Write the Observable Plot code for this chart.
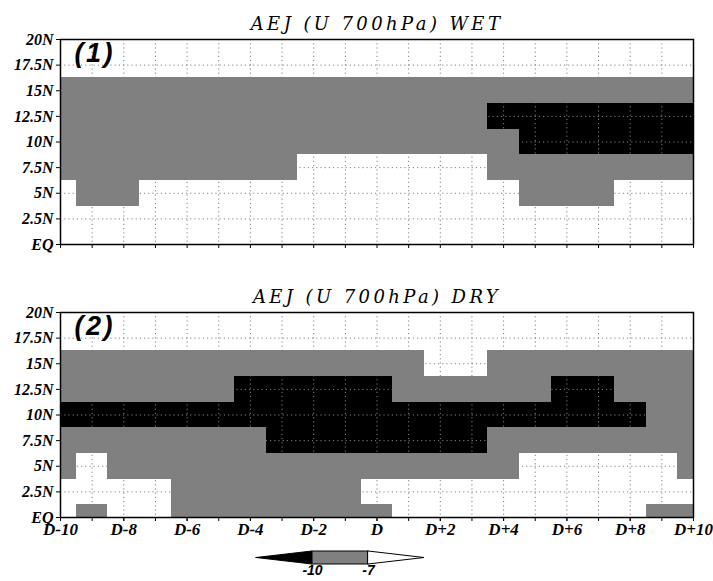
<!DOCTYPE html>
<html><head><meta charset="utf-8">
<script src="https://cdn.jsdelivr.net/npm/d3@7"></script>
<script src="https://cdn.jsdelivr.net/npm/@observablehq/plot@0.6"></script>
<style>
body{margin:0;background:#fff;}
#chart{position:relative;width:713px;height:581px;overflow:hidden;background:#fff;}
#chart svg{position:absolute;left:0;overflow:visible;}
</style></head><body><div id="chart"></div>
<script>
// Days relative to onset (D-10 .. D+10)
const days = [-10,-9,-8,-7,-6,-5,-4,-3,-2,-1,0,1,2,3,4,5,6,7,8,9,10];
const dayTicks = [-10,-8,-6,-4,-2,0,2,4,6,8,10];
const dayTickLabels = ["D-10","D-8","D-6","D-4","D-2","D","D+2","D+4","D+6","D+8","D+10"];
// Latitude rows, top to bottom
const lats = [20,17.5,15,12.5,10,7.5,5,2.5,0];
const latTicks = [0,2.5,5,7.5,10,12.5,15,17.5,20];
const latTickLabels = ["EQ","2.5N","5N","7.5N","10N","12.5N","15N","17.5N","20N"];
// Shading class of U700: 0 = above -7, 1 = -10..-7, 2 = below -10 (m/s)
const shadeClasses = [0, 1, 2];
const shadeColors = ["#ffffff", "#808080", "#000000"];
const legendBreaks = [-10, -7];
const legendLabels = ["-10", "-7"];

const wetTitle = "AEJ (U 700hPa) WET";
const dryTitle = "AEJ (U 700hPa) DRY";

const wetRows = [
  [0,0,0,0,0,0,0,0,0,0,0,0,0,0,0,0,0,0,0,0,0], // 20N
  [0,0,0,0,0,0,0,0,0,0,0,0,0,0,0,0,0,0,0,0,0], // 17.5N
  [1,1,1,1,1,1,1,1,1,1,1,1,1,1,1,1,1,1,1,1,1], // 15N
  [1,1,1,1,1,1,1,1,1,1,1,1,1,1,2,2,2,2,2,2,2], // 12.5N
  [1,1,1,1,1,1,1,1,1,1,1,1,1,1,1,2,2,2,2,2,2], // 10N
  [1,1,1,1,1,1,1,1,0,0,0,0,0,0,1,1,1,1,1,1,1], // 7.5N
  [0,1,1,0,0,0,0,0,0,0,0,0,0,0,0,1,1,1,0,0,0], // 5N
  [0,0,0,0,0,0,0,0,0,0,0,0,0,0,0,0,0,0,0,0,0], // 2.5N
  [0,0,0,0,0,0,0,0,0,0,0,0,0,0,0,0,0,0,0,0,0]  // EQ
];
const dryRows = [
  [0,0,0,0,0,0,0,0,0,0,0,0,0,0,0,0,0,0,0,0,0], // 20N
  [0,0,0,0,0,0,0,0,0,0,0,0,0,0,0,0,0,0,0,0,0], // 17.5N
  [1,1,1,1,1,1,1,1,1,1,1,1,0,0,1,1,1,1,1,1,1], // 15N
  [1,1,1,1,1,1,2,2,2,2,2,1,1,1,1,1,2,2,1,1,1], // 12.5N
  [2,2,2,2,2,2,2,2,2,2,2,2,2,2,2,2,2,2,2,1,1], // 10N
  [1,1,1,1,1,1,1,2,2,2,2,2,2,2,1,1,1,1,1,1,1], // 7.5N
  [1,0,1,1,1,1,1,1,1,1,1,1,1,1,1,0,0,0,0,0,1], // 5N
  [0,0,0,0,1,1,1,1,1,1,0,0,0,0,0,0,0,0,0,0,0], // 2.5N
  [0,1,0,0,1,1,1,1,1,1,1,0,0,0,0,0,0,0,0,1,1]  // EQ
];

const tickFont = {fontFamily: "Liberation Serif", fontWeight: "bold", fontStyle: "italic"};

function panel(rows, title, tag, showX, marginTop, height) {
  const cells = [];
  lats.forEach((lat, i) => days.forEach((day, j) => cells.push({day, lat, cls: rows[i][j]})));
  const dLat = 1.25, dDay = 0.5;
  const svg = Plot.plot({
    width: 713, height,
    marginLeft: 60, marginRight: 20, marginTop, marginBottom: height - marginTop - 205,
    x: {domain: [-10, 10]},
    y: {domain: [0, 20]},
    color: {type: "ordinal", domain: shadeClasses, range: shadeColors},
    style: {background: "transparent", color: "black"},
    marks: [
      Plot.rect(cells, {
        x1: d => d.day - dDay, x2: d => d.day + dDay,
        y1: d => d.lat - dLat, y2: d => d.lat + dLat,
        fill: "cls", clip: true, shapeRendering: "crispEdges"
      }),
      Plot.gridX({ticks: days.slice(1, -1), stroke: "#808080", strokeOpacity: 1, strokeWidth: 1, strokeDasharray: "1.2,3"}),
      Plot.gridY({ticks: latTicks.slice(1, -1), stroke: "#808080", strokeOpacity: 1, strokeWidth: 1, strokeDasharray: "1.2,3"}),
      Plot.axisY({ticks: latTicks, tickFormat: d => latTickLabels[latTicks.indexOf(d)], tickSize: 4, tickPadding: 3, label: null, fontSize: 16, ...tickFont}),
      Plot.axisX({ticks: days, tickFormat: () => "", tickSize: 4, label: null}),
      ...(showX ? [Plot.axisX({ticks: dayTicks, tickFormat: d => dayTickLabels[dayTicks.indexOf(d)], tickSize: 4, tickPadding: 1, label: null, fontSize: 17, ...tickFont})] : []),
      Plot.frame({stroke: "black", strokeWidth: 1.5}),
      Plot.text([title], {frameAnchor: "top", lineAnchor: "bottom", dy: -10, fontSize: 18, fontFamily: "DejaVu Serif", fontStyle: "italic", fill: "black"}),
      Plot.text([tag], {frameAnchor: "top-left", textAnchor: "start", lineAnchor: "top", dx: 14, dy: 3, fontSize: 27, fontFamily: "Liberation Sans", fontWeight: "bold", fontStyle: "italic", fill: "black"})
    ]
  });
  const texts = d3.select(svg).selectAll("text");
  texts.filter(function() { return this.textContent === title; }).style("letter-spacing", "3.4px");
  texts.filter(function() { return this.textContent === tag; }).style("letter-spacing", "2.5px");
  return svg;
}

const chart = document.getElementById("chart");
const p1 = panel(wetRows, wetTitle, "(1)", false, 39, 270);
p1.style.top = "0px";
chart.appendChild(p1);
const p2 = panel(dryRows, dryTitle, "(2)", true, 40, 268);
p2.style.top = "272px";
chart.appendChild(p2);

// Colour bar
const lo = legendBreaks[0], hi = legendBreaks[1];
const span = hi - lo;
const leg = Plot.plot({
  width: 713, height: 41,
  marginLeft: 256, marginRight: 289, marginTop: 11, marginBottom: 17,
  x: {domain: [lo - span, hi + span], axis: null},
  y: {domain: [0, 1], axis: null},
  style: {background: "transparent"},
  marks: [
    Plot.area([{x: lo - span, a: 0.5, b: 0.5}, {x: lo, a: 0, b: 1}], {x1: "x", y1: "a", y2: "b", fill: shadeColors[2], stroke: "black", strokeWidth: 1}),
    Plot.rect([{a: lo, b: hi}], {x1: "a", x2: "b", y1: 0, y2: 1, fill: shadeColors[1], stroke: "black", strokeWidth: 1}),
    Plot.area([{x: hi, a: 0, b: 1}, {x: hi + span, a: 0.5, b: 0.5}], {x1: "x", y1: "a", y2: "b", fill: shadeColors[0], stroke: "black", strokeWidth: 1}),
    Plot.text(legendBreaks, {x: d => d, frameAnchor: "bottom", lineAnchor: "top", dy: 1, text: (d, i) => legendLabels[i], fontSize: 14, fontFamily: "Liberation Sans", fontWeight: "bold", fontStyle: "italic", fill: "black"})
  ]
});
leg.style.top = "540px";
chart.appendChild(leg);
</script></body></html>
